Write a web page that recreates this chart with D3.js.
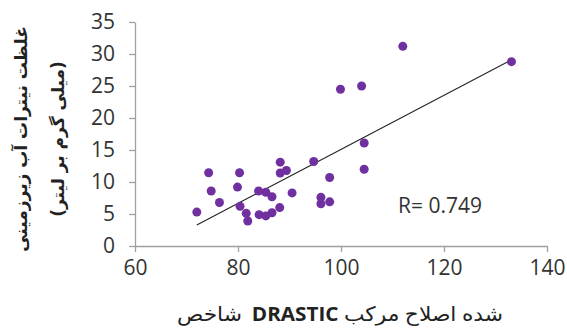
<!DOCTYPE html>
<html>
<head>
<meta charset="utf-8">
<script src="https://cdn.jsdelivr.net/npm/d3@7"></script>
<style>
  body { margin: 0; background: #fff; }
  svg { display: block; }
</style>
</head>
<body>
<div id="chart"></div>
<script>
// index values (x) and nitrate concentration (y)
const drasticIndex = [72.0, 74.3, 74.8, 76.4, 80.3, 79.9, 80.4, 81.6, 81.9, 84.0, 85.4, 86.6, 84.1, 85.4, 86.6, 88.1,
                      88.2, 88.2, 89.4, 90.5, 94.7, 96.1, 96.1, 97.8, 97.8, 104.5, 104.5, 112.0, 99.9, 104.0, 133.1];
const nitrate = [5.3, 11.45, 8.6, 6.8, 11.45, 9.2, 6.2, 5.1, 3.9, 8.6, 8.4, 7.7, 4.9, 4.7, 5.2, 6.0,
                 13.1, 11.4, 11.8, 8.3, 13.2, 7.6, 6.6, 6.9, 10.7, 12.0, 16.1, 31.2, 24.5, 25.0, 28.8];
const xTicks = [60, 80, 100, 120, 140];
const yTicks = [0, 5, 10, 15, 20, 25, 30, 35];
const rLabel = "R= 0.749";
const xTitleWords = ["شاخص", "DRASTIC", "مرکب", "اصلاح", "شده"];
const yTitleLines = ["غلظت نیترات آب زیرزمینی", "(میلی گرم بر لیتر)"];

const width = 567, height = 328;
const margin = {top: 22, right: 20, bottom: 82, left: 135};

const svg = d3.select("#chart")
  .append("svg")
    .attr("width", width)
    .attr("height", height);

const x = d3.scaleLinear().domain([60, 140]).range([margin.left, width - margin.right]);
const y = d3.scaleLinear().domain([0, 35]).range([height - margin.bottom, margin.top]);

// axes
const xAxis = svg.append("g")
  .attr("transform", `translate(0,${y(0)})`)
  .call(d3.axisBottom(x).tickValues(xTicks).tickSize(6).tickSizeOuter(0).tickPadding(8));

const yAxis = svg.append("g")
  .attr("transform", `translate(${x(60)},0)`)
  .call(d3.axisLeft(y).tickValues(yTicks).tickSize(6).tickSizeOuter(0).tickPadding(14));

[xAxis, yAxis].forEach(g => {
  g.select(".domain").attr("stroke", "#a0a0a0").attr("stroke-width", 1.3);
  g.selectAll(".tick line").attr("stroke", "#a0a0a0").attr("stroke-width", 1.3);
  g.selectAll(".tick text")
    .attr("fill", "#333")
    .style("font-family", "'Open Sans', sans-serif")
    .style("font-size", "21px");
});

// trend line (least squares)
const pts = drasticIndex.map((d, i) => ({x: d, y: nitrate[i]}));
const mx = d3.mean(pts, d => d.x), my = d3.mean(pts, d => d.y);
const slope = d3.sum(pts, d => (d.x - mx) * (d.y - my)) / d3.sum(pts, d => (d.x - mx) ** 2);
const intercept = my - slope * mx;
const [x0, x1] = d3.extent(drasticIndex);

svg.append("line")
  .attr("x1", x(x0)).attr("y1", y(intercept + slope * x0))
  .attr("x2", x(x1)).attr("y2", y(intercept + slope * x1))
  .attr("stroke", "#222")
  .attr("stroke-width", 1.1);

// points
svg.selectAll(".dot")
  .data(pts)
  .enter().append("circle")
    .attr("class", "dot")
    .attr("cx", d => x(d.x))
    .attr("cy", d => y(d.y))
    .attr("r", 4.5)
    .attr("fill", "#7030a0");

// R label
svg.append("text")
  .attr("x", 398)
  .attr("y", 213)
  .attr("fill", "#333")
  .style("font-family", "'Open Sans', sans-serif")
  .style("font-size", "21px")
  .text(rLabel);

// x title: the original lays the words out left to right, so place each word on its own
const titleG = svg.append("g");
let cursor = 0;
xTitleWords.forEach((w, i) => {
  const latin = /[A-Z]/.test(w);
  const t = titleG.append("text")
    .attr("x", cursor)
    .attr("y", 0)
    .attr("fill", "#222")
    .style("font-family", latin ? "'Open Sans', sans-serif" : "'DejaVu Sans', sans-serif")
    .style("font-weight", latin ? "bold" : "normal")
    .style("font-size", latin ? "19px" : "20px")
    .text(w);
  cursor += t.node().getComputedTextLength() + (i === 0 ? 9 : 5);
});
const titleW = cursor - 5;
const targetW = 326;
titleG.attr("transform", `translate(${340 - targetW / 2},321) scale(${targetW / titleW},1)`);

// y title (two lines, rotated)
const yTitle = svg.append("text")
  .attr("transform", "translate(21,139) rotate(-90)")
  .attr("text-anchor", "middle")
  .attr("fill", "#222")
  .style("font-family", "'DejaVu Sans', sans-serif")
  .style("font-weight", "bold")
  .style("font-size", "17px");
yTitle.append("tspan").attr("x", 0).attr("dy", "0.35em").text(yTitleLines[0]);
yTitle.append("tspan").attr("x", 0).attr("dy", "2.2em").text(yTitleLines[1]);
</script>
</body>
</html>
